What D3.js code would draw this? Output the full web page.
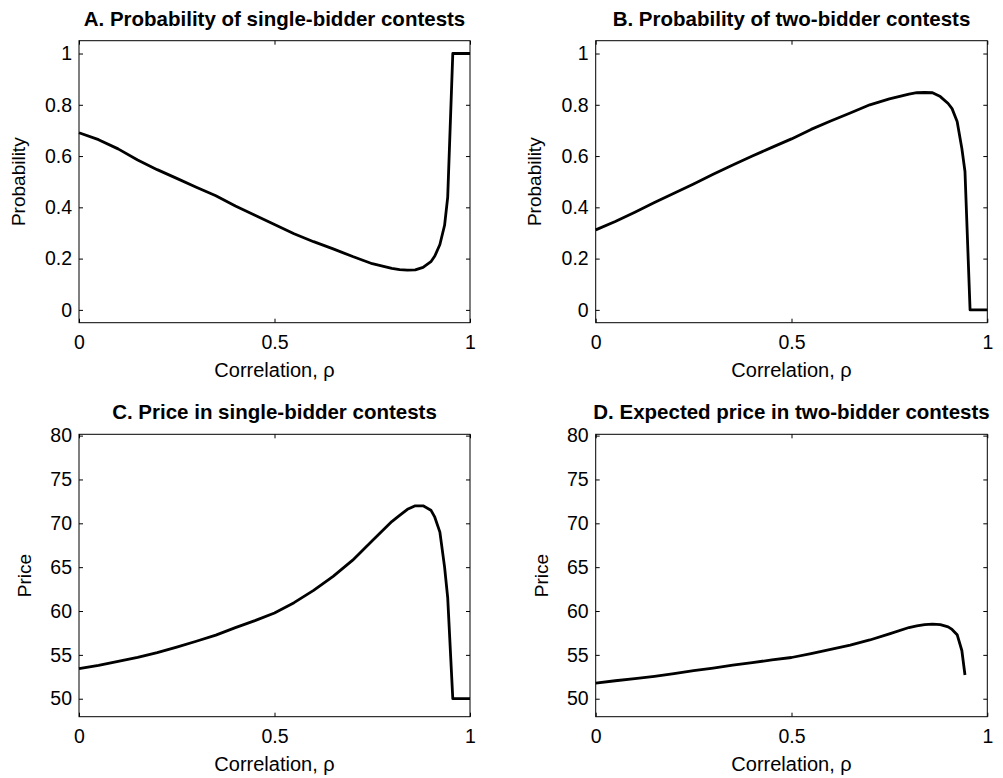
<!DOCTYPE html>
<html>
<head>
<meta charset="utf-8">
<script src="https://cdn.jsdelivr.net/npm/d3@7"></script>
<style>
  body { margin: 0; background: #fff; }
  svg text { font-family: "Liberation Sans", Arial, Helvetica, sans-serif; fill: #000; }
</style>
</head>
<body>
<div id="chart"></div>
<script>
// correlation grid (x values shared by all four panels)
const rho = [0, 0.05, 0.1, 0.15, 0.2, 0.25, 0.3, 0.35, 0.4, 0.45, 0.5, 0.55, 0.6, 0.65, 0.7, 0.75,
             0.8, 0.82, 0.84, 0.86, 0.88, 0.9, 0.91, 0.923, 0.935, 0.943, 0.956, 1.0]

// A. probability of single-bidder contests
const probSingle = [0.691, 0.664, 0.628, 0.585, 0.547, 0.513, 0.478, 0.445, 0.405, 0.369, 0.333, 0.297,
                    0.266, 0.238, 0.208, 0.180, 0.162, 0.157, 0.155, 0.156, 0.166, 0.188, 0.210, 0.255,
                    0.330, 0.440, 1.0, 1.0]
// B. probability of two-bidder contests
const probTwo = [0.312, 0.345, 0.381, 0.419, 0.455, 0.491, 0.529, 0.565, 0.600, 0.634, 0.667, 0.704,
                 0.737, 0.768, 0.800, 0.823, 0.842, 0.847, 0.848, 0.847, 0.832, 0.805, 0.785, 0.735,
                 0.630, 0.540, 0, 0]
// C. price in single-bidder contests
const priceSingle = [53.43, 53.8, 54.25, 54.72, 55.25, 55.88, 56.55, 57.25, 58.1, 58.9, 59.78, 60.95,
                     62.35, 63.95, 65.8, 68.0, 70.2, 70.9, 71.6, 72.0, 72.0, 71.5, 70.7, 69.0,
                     65.0, 61.5, 50, 50]
// D. expected price in two-bidder contests (no value past rho ~ 0.945)
const priceTwo = [51.78, 52.05, 52.3, 52.55, 52.85, 53.2, 53.5, 53.82, 54.12, 54.42, 54.7, 55.15,
                  55.62, 56.1, 56.7, 57.4, 58.12, 58.3, 58.45, 58.5, 58.45, 58.2, 57.9, 57.3,
                  55.5, 52.7, null, null]

const xTicks = [0, 0.5, 1]
const probTicks = [0, 0.2, 0.4, 0.6, 0.8, 1]
const priceTicks = [50, 55, 60, 65, 70, 75, 80]
const titles = [
  "A. Probability of single-bidder contests",
  "B. Probability of two-bidder contests",
  "C. Price in single-bidder contests",
  "D. Expected price in two-bidder contests"
]

const width = 1003
const height = 778

const svg = d3.select("#chart")
  .append("svg")
  .attr("width", width)
  .attr("height", height)
  .style("background", "#fff")

const leftCol = { left: 79, right: 470 }
const rightCol = { left: 595.7, right: 987.3 }
const topRow = { top: 40.7, bottom: 322.7 }
const bottomRow = { top: 434.3, bottom: 716.7 }

const panels = [
  { ...leftCol, ...topRow, title: titles[0], values: probSingle, yDomain: [-0.05, 1.05], yTicks: probTicks, yLabel: "Probability", labelGap: 54 },
  { ...rightCol, ...topRow, title: titles[1], values: probTwo, yDomain: [-0.05, 1.05], yTicks: probTicks, yLabel: "Probability", labelGap: 55 },
  { ...leftCol, ...bottomRow, title: titles[2], values: priceSingle, yDomain: [47.95, 80.15], yTicks: priceTicks, yLabel: "Price", labelGap: 48 },
  { ...rightCol, ...bottomRow, title: titles[3], values: priceTwo, yDomain: [47.95, 80.15], yTicks: priceTicks, yLabel: "Price", labelGap: 48 }
]

const tickLen = 4

function drawPanel(p) {
  const x = d3.scaleLinear().domain([0, 1]).range([p.left, p.right])
  const y = d3.scaleLinear().domain(p.yDomain).range([p.bottom, p.top])
  const g = svg.append("g")

  // axes, ticks pointing inward on all four sides (matlab box style)
  const fmt = d => String(d)
  const bottomAx = g.append("g")
    .attr("transform", `translate(0,${p.bottom})`)
    .call(d3.axisBottom(x).tickValues(xTicks).tickFormat(fmt).tickSize(-tickLen).tickPadding(12.5))
  const leftAx = g.append("g")
    .attr("transform", `translate(${p.left},0)`)
    .call(d3.axisLeft(y).tickValues(p.yTicks).tickFormat(fmt).tickSize(-tickLen).tickPadding(7))
  const topAx = g.append("g")
    .attr("transform", `translate(0,${p.top})`)
    .call(d3.axisTop(x).tickValues(xTicks).tickFormat("").tickSize(-tickLen))
  const rightAx = g.append("g")
    .attr("transform", `translate(${p.right},0)`)
    .call(d3.axisRight(y).tickValues(p.yTicks).tickFormat("").tickSize(-tickLen))

  ;[bottomAx, leftAx, topAx, rightAx].forEach(ax => {
    ax.select(".domain").remove()
    ax.selectAll(".tick line").attr("stroke", "#000").attr("stroke-width", 1)
    ax.selectAll(".tick text").attr("font-size", 19.5).attr("fill", "#000")
      .style("font-family", '"Liberation Sans", Arial, sans-serif')
  })

  // box
  g.append("rect")
    .attr("x", p.left)
    .attr("y", p.top)
    .attr("width", p.right - p.left)
    .attr("height", p.bottom - p.top)
    .attr("fill", "none")
    .attr("stroke", "#000")
    .attr("stroke-width", 1)

  // curve
  const pts = rho.map((r, i) => [r, p.values[i]])
  const line = d3.line()
    .defined(d => d[1] != null)
    .x(d => x(d[0]))
    .y(d => y(d[1]))
  g.append("path")
    .datum(pts)
    .attr("d", line)
    .attr("fill", "none")
    .attr("stroke", "#000")
    .attr("stroke-width", 2.8)
    .attr("stroke-linejoin", "round")

  // title
  g.append("text")
    .attr("x", (p.left + p.right) / 2)
    .attr("y", p.top - 15)
    .attr("text-anchor", "middle")
    .attr("font-size", 20.5)
    .attr("font-weight", "bold")
    .text(p.title)

  // x label
  g.append("text")
    .attr("x", (p.left + p.right) / 2)
    .attr("y", p.bottom + 54)
    .attr("text-anchor", "middle")
    .attr("font-size", 20)
    .text("Correlation, \u03C1")

  // y label
  g.append("text")
    .attr("transform", `translate(${p.left - p.labelGap},${(p.top + p.bottom) / 2}) rotate(-90)`)
    .attr("text-anchor", "middle")
    .attr("font-size", 19)
    .text(p.yLabel)
}

panels.forEach(drawPanel)
</script>
</body>
</html>
